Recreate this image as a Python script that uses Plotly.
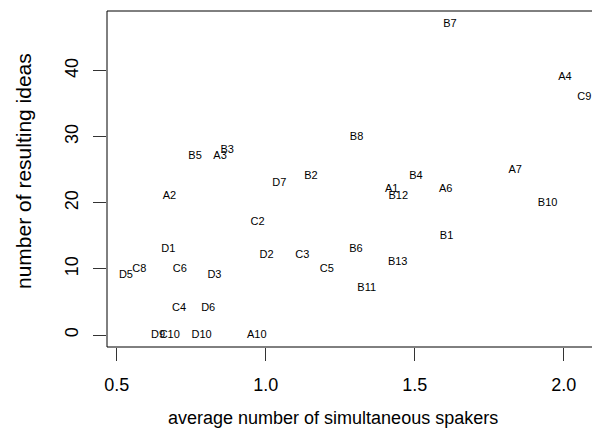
import plotly.graph_objects as go

labels = ["B7", "A4", "C9", "B8", "A7", "B4", "B2", "B5", "A3", "B3",
          "D7", "A2", "C2", "D1", "D2", "C3", "C5", "D5", "C8", "C6",
          "D3", "C4", "D6", "D9", "C10", "D10", "A10", "A1", "B12", "A6",
          "B10", "B1", "B6", "B13", "B11"]
speakers = [1.618, 2.004, 2.069, 1.305, 1.837, 1.504, 1.152, 0.763, 0.847, 0.871,
            1.046, 0.677, 0.973, 0.673, 1.003, 1.123, 1.205, 0.531, 0.576, 0.712,
            0.828, 0.709, 0.807, 0.639, 0.678, 0.785, 0.970, 1.423, 1.445, 1.604,
            1.946, 1.607, 1.303, 1.443, 1.339]
ideas = [47, 39, 36, 30, 25, 24, 24, 27, 27, 28,
         23, 21, 17, 13, 12, 12, 10, 9, 10, 10,
         9, 4, 4, 0, 0, 0, 0, 22, 21, 22,
         20, 15, 13, 11, 7]

x_ticks = [0.5, 1.0, 1.5, 2.0]
x_ticklabels = ["0.5", "1.0", "1.5", "2.0"]
y_ticks = [0, 10, 20, 30, 40]
y_ticklabels = ["0", "10", "20", "30", "40"]

FONT = "Liberation Sans, Arial, Helvetica, sans-serif"

# plot area spans page x 107..592, y 11..347 (body margin removed below)
W, H = 592, 445
PL, PR, PT, PB = 107, 592, 11, 347
PW, PH = PR - PL, PB - PT

fig = go.Figure()
fig.add_trace(go.Scatter(
    x=speakers, y=ideas, text=labels, mode="text",
    textposition="middle center",
    textfont=dict(family=FONT, size=11, color="black"),
    hoverinfo="skip", showlegend=False,
))

fig.update_layout(
    width=W, height=H,
    margin=dict(l=PL, r=W - PR, t=PT, b=H - PB, pad=0),
    paper_bgcolor="white", plot_bgcolor="white",
    font=dict(family=FONT, color="black", size=18),
    showlegend=False,
    xaxis=dict(
        range=[0.46745, 2.095], tickvals=x_ticks, ticktext=x_ticklabels,
        showgrid=False, zeroline=False, showline=False,
        ticks="outside", ticklen=13, tickwidth=1, tickcolor="#333333",
        tickfont=dict(size=18, family=FONT, color="black"),
        ticklabelstandoff=8,
    ),
    yaxis=dict(
        range=[-1.816, 49.03], tickvals=y_ticks, ticktext=y_ticklabels,
        showgrid=False, zeroline=False, showline=False,
        ticks="outside", ticklen=13, tickwidth=1, tickcolor="#333333",
        tickangle=-90,
        tickfont=dict(size=18, family=FONT, color="black"),
        ticklabelstandoff=8,
    ),
    shapes=[
        dict(type="line", xref="paper", yref="paper", x0=0, x1=0, y0=0, y1=1,
             line=dict(color="black", width=1)),
        dict(type="line", xref="paper", yref="paper", x0=0, x1=1, y0=1, y1=1,
             line=dict(color="black", width=1)),
        dict(type="line", xref="paper", yref="paper", x0=0, x1=1, y0=0, y1=0,
             line=dict(color="black", width=1)),
    ],
    annotations=[
        dict(text="average number of simultaneous spakers", xref="paper", yref="paper",
             x=(333 - PL) / PW, y=-(418 - PB) / PH, showarrow=False,
             xanchor="center", yanchor="middle",
             font=dict(size=18, family=FONT, color="black")),
        dict(text="number of resulting ideas", xref="paper", yref="paper",
             x=-(PL - 23) / PW, y=(PB - 171) / PH, showarrow=False, textangle=-90,
             xanchor="center", yanchor="middle",
             font=dict(size=21, family=FONT, color="black")),
    ],
)

fig.write_html(
    "out.html",
    config={"displayModeBar": False, "staticPlot": True},
    post_script="document.body.style.margin='0';document.body.style.overflow='hidden';",
)
